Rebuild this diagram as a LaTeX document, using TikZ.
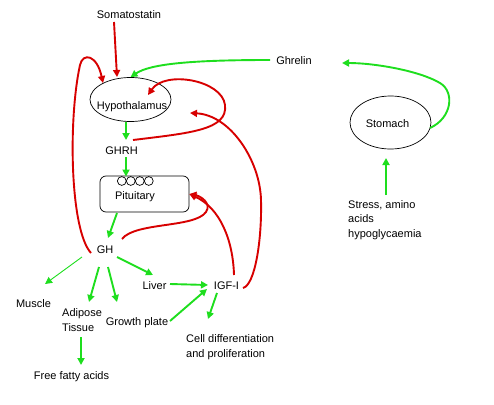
\documentclass[tikz,border=0pt]{standalone}
\usepackage{fontspec}
\setmainfont{Liberation Sans}
\usetikzlibrary{arrows.meta,shapes.geometric}
\definecolor{ggreen}{RGB}{30,222,30}
\definecolor{rred}{RGB}{215,0,0}
\begin{document}
\begin{tikzpicture}[x=1pt,y=-1pt,
  txt/.style={font=\fontsize{11}{14.5}\selectfont, inner sep=2pt, text height=8pt, text depth=0pt},
  mtxt/.style={font=\fontsize{11}{14.5}\selectfont, inner sep=0pt, align=left, anchor=north west},
  organ/.style={draw, ellipse, line width=0.7pt, inner sep=0pt},
  vesicle/.style={draw, circle, line width=0.7pt, inner sep=0pt, minimum size=8.8pt},
  garrow/.style={draw=ggreen, line width=1.9pt, -{Triangle[length=7pt,width=7pt]}},
  rarrow/.style={draw=rred, line width=1.9pt, -{Triangle[length=7pt,width=7pt]}},
]
\useasboundingbox (0,0) rectangle (494,404);

% organs
\node[organ, minimum width=81pt, minimum height=44pt] (hyp) at (130.5,99.5) {};
\node[txt] (hyptext) at (132,105) {Hypothalamus};
\node[organ, minimum width=81pt, minimum height=53pt] (stomach) at (390.5,122.5) {};
\node[txt] (stomtext) at (387.5,123) {Stomach};
\node[draw, line width=0.7pt, rounded corners=6pt, minimum width=89pt, minimum height=36pt, inner sep=0pt] (pit) at (144.5,194) {};
\node[txt] (pittext) at (135,195) {Pituitary};
\node[vesicle] (v1) at (121.8,181) {};
\node[vesicle] (v2) at (130.8,181) {};
\node[vesicle] (v3) at (139.8,181) {};
\node[vesicle] (v4) at (148.8,181) {};

% labels
\node[txt] (som) at (129,15) {Somatostatin};
\node[txt] (ghrelin) at (294,60.5) {Ghrelin};
\node[mtxt] (stress) at (348,200) {Stress, amino\\acids\\hypoglycaemia};
\node[txt] (ghrh) at (121.5,150) {GHRH};
\node[txt] (gh) at (105,249) {GH};
\node[txt] (muscle) at (33.5,303) {Muscle};
\node[mtxt] (adipose) at (62,308.5) {Adipose\\Tissue};
\node[txt] (growth) at (137,321.5) {Growth plate};
\node[txt] (liver) at (154.5,285) {Liver};
\node[txt] (igf) at (226.5,285) {IGF-I};
\node[mtxt] (cell) at (186,334.5) {Cell differentiation\\and proliferation};
\node[txt] (ffa) at (71.5,375) {Free fatty acids};

% green connectors
\draw[garrow] ([shift={(-24,-0.5)}]ghrelin.center) .. controls (190,60) and (150,64) .. (hyp.north);
\draw[garrow] ([shift={(39.5,5.5)}]stomach.center) .. controls (452,118) and (455,92) .. (440,83)
   .. controls (420,71) and (375,63) .. ([shift={(48,2.5)}]ghrelin.center);
\draw[garrow] ([shift={(38,-5)}]stress.north west) -- ([shift={(-4.5,35.5)}]stomach.center);
\draw[garrow] ([shift={(-4.5,22.5)}]hyp.center) -- ([shift={(4.5,-10)}]ghrh.center);
\draw[garrow] ([shift={(4.5,7)}]ghrh.center) -- ([shift={(-18.5,-17.5)}]pit.center);
\draw[garrow] ([shift={(-27.5,19)}]pit.center) -- ([shift={(3,-11)}]gh.center);
\draw[garrow, line width=0.9pt] ([shift={(-23,8)}]gh.center) -- ([shift={(11.5,-19)}]muscle.center);
\draw[garrow] ([shift={(-6,18)}]gh.center) -- ([shift={(27,-6.5)}]adipose.north west);
\draw[garrow] ([shift={(3,18)}]gh.center) -- ([shift={(-20,-19.5)}]growth.center);
\draw[garrow] ([shift={(12,8)}]gh.center) -- ([shift={(-1.5,-10)}]liver.center);
\draw[garrow] ([shift={(15.5,-1)}]liver.center) -- ([shift={(-18.5,0)}]igf.center);
\draw[garrow] ([shift={(33,-0.5)}]growth.center) -- ([shift={(-19.5,4)}]igf.center);
\draw[garrow] ([shift={(-9.5,8)}]igf.center) -- ([shift={(22,-15.5)}]cell.north west);
\draw[garrow] ([shift={(19,28.5)}]adipose.north west) -- ([shift={(9.5,-10)}]ffa.center);

% red connectors
\draw[rarrow] ([shift={(-15,7)}]som.center) -- ([shift={(-13.5,-22.5)}]hyp.center);
\draw[rarrow] ([shift={(-14,4)}]gh.center) .. controls (70,230) and (68,120) .. (80,65)
   .. controls (83,52) and (97,55) .. ([shift={(-27.5,-16.5)}]hyp.center);
\draw[rarrow] ([shift={(11.5,-10)}]ghrh.center) .. controls (190,133) and (228,130) .. (225,105)
   .. controls (222,80) and (165,70) .. ([shift={(17.5,-4.5)}]hyp.center);
\draw[rarrow] ([shift={(16.5,3)}]igf.center) .. controls (255,285) and (262,240) .. (261,200)
   .. controls (260,160) and (230,115) .. ([shift={(59.5,13.5)}]hyp.center);
\draw[rarrow] ([shift={(17,-10)}]gh.center) .. controls (135,222) and (195,228) .. (206,212)
   .. controls (212,203) and (200,196) .. (pit.east);
\draw[rarrow] ([shift={(7.5,-10)}]igf.center) .. controls (233,240) and (220,208) .. (pit.east);
\end{tikzpicture}
\end{document}
